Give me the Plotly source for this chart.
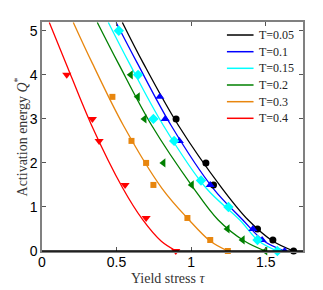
import plotly.graph_objects as go

# ---------------- data ----------------
labels = ["T=0.05", "T=0.1", "T=0.15", "T=0.2", "T=0.3", "T=0.4"]
colors = ["#000000", "#0000ff", "#00ffff", "#008000", "#e8860e", "#ff0000"]
symbols = ["circle", "triangle-up", "diamond", "triangle-left", "square", "triangle-down"]
msizes = [7, 8, 8, 8, 6, 8]

# simulation points (tau, Q*)
pts_tau_005 = [0.899, 1.099, 1.150, 1.445, 1.548, 1.687]
pts_q_005 = [3.0, 2.0, 1.5, 0.5, 0.25, 0.0]
pts_tau_01 = [0.790, 0.826, 0.921, 1.128, 1.414, 1.476, 1.627]
pts_q_01 = [3.5, 3.0, 2.5, 1.5, 0.5, 0.25, 0.0]
pts_tau_015 = [0.515, 0.644, 0.747, 0.886, 1.066, 1.250, 1.445, 1.578]
pts_q_015 = [5.0, 4.0, 3.0, 2.5, 1.6, 1.0, 0.25, 0.0]
pts_tau_02 = [0.595, 0.642, 0.687, 0.814, 1.004, 1.244, 1.345, 1.497]
pts_q_02 = [4.0, 3.5, 3.0, 2.0, 1.5, 0.5, 0.25, 0.0]
pts_tau_03 = [0.472, 0.600, 0.698, 0.747, 0.975, 1.128, 1.246]
pts_q_03 = [3.5, 2.5, 2.0, 1.5, 0.75, 0.25, 0.0]
pts_tau_04 = [0.166, 0.338, 0.383, 0.557, 0.698, 0.897]
pts_q_04 = [4.0, 3.0, 2.5, 1.5, 0.75, 0.0]

# fitted curves
fit_q = [5.19, 4.26, 2.85, 1.43, 0.71, 0.22, 0.0]
fit_tau_005 = [0.539, 0.680, 0.915, 1.206, 1.381, 1.550, 1.687]
fit_tau_01 = [0.497, 0.640, 0.866, 1.146, 1.345, 1.490, 1.627]
fit_tau_015 = [0.445, 0.586, 0.814, 1.100, 1.325, 1.455, 1.578]
fit_tau_02 = [0.371, 0.512, 0.736, 1.016, 1.180, 1.360, 1.497]
fit_tau_03 = [0.210, 0.338, 0.546, 0.803, 0.985, 1.130, 1.246]
fit_tau_04 = [0.049, 0.161, 0.333, 0.541, 0.675, 0.800, 0.900]

pts_tau = [pts_tau_005, pts_tau_01, pts_tau_015, pts_tau_02, pts_tau_03, pts_tau_04]
pts_q = [pts_q_005, pts_q_01, pts_q_015, pts_q_02, pts_q_03, pts_q_04]
fit_tau = [fit_tau_005, fit_tau_01, fit_tau_015, fit_tau_02, fit_tau_03, fit_tau_04]

x_ticks = [0, 0.5, 1, 1.5]
x_ticklabels = ["0", "0.5", "1", "1.5"]
y_ticks = [0, 1, 2, 3, 4, 5]
y_ticklabels = ["0", "1", "2", "3", "4", "5"]

# ---------------- figure ----------------
fig = go.Figure()
for i in range(len(labels)):
    fig.add_trace(go.Scatter(
        x=fit_tau[i], y=fit_q, mode="lines", line=dict(color=colors[i], width=1.3, shape="spline", smoothing=1.0),
        name=labels[i], showlegend=False, hoverinfo="skip"))
for i in range(len(labels)):
    fig.add_trace(go.Scatter(
        x=pts_tau[i], y=pts_q[i], mode="markers", cliponaxis=False,
        marker=dict(symbol=symbols[i], size=msizes[i], color=colors[i], line=dict(width=0)),
        name=labels[i], showlegend=False))

# manual legend
leg_y = [0.9432, 0.8703, 0.7978, 0.7249, 0.6520, 0.5795]
shapes = []
annotations = []
for i in range(len(labels)):
    shapes.append(dict(type="line", xref="paper", yref="paper", x0=0.7085, x1=0.8105,
                       y0=leg_y[i], y1=leg_y[i], line=dict(color=colors[i], width=1.5)))
    annotations.append(dict(xref="paper", yref="paper", x=0.8236, y=leg_y[i], text=labels[i],
                            showarrow=False, xanchor="left", yanchor="middle",
                            font=dict(family="Liberation Serif", size=12, color="#222")))
# bottom axis drawn black
shapes.append(dict(type="line", xref="paper", yref="paper", x0=0, x1=1, y0=0, y1=0,
                   line=dict(color="#000000", width=1.5)))

annotations.append(dict(xref="paper", yref="paper", x=0.483, y=-0.1166, text="Yield stress <i>τ</i>",
                        showarrow=False, xanchor="center", yanchor="middle", yshift=-1,
                        font=dict(family="Liberation Serif", size=14, color="#333")))
annotations.append(dict(xref="paper", yref="paper", x=-0.0806, y=0.5,
                        text="Activation energy <i>Q</i><sup>*</sup>", textangle=-90,
                        showarrow=False, xanchor="center", yanchor="middle",
                        font=dict(family="Liberation Serif", size=14, color="#333")))

# page body has an 8px default margin, so the figure is 8px smaller and offset
fig.update_layout(
    width=315, height=282,
    margin=dict(l=34, r=20.3, t=14, b=39),
    paper_bgcolor="white", plot_bgcolor="white",
    showlegend=False,
    shapes=shapes, annotations=annotations,
    xaxis=dict(range=[0, 1.75], tickvals=x_ticks, ticktext=x_ticklabels,
               ticks="inside", ticklen=4, tickcolor="#555", showline=True, linecolor="#808080",
               linewidth=1.5, mirror="ticks", showgrid=False, zeroline=False,
               ticklabelstandoff=-3,
               tickfont=dict(family="Liberation Sans", size=14, color="#000")),
    yaxis=dict(range=[0, 5.2], tickvals=y_ticks, ticktext=y_ticklabels,
               ticks="inside", ticklen=4, tickcolor="#555", showline=True, linecolor="#808080",
               linewidth=1.5, mirror="ticks", showgrid=False, zeroline=False,
               tickfont=dict(family="Liberation Sans", size=14, color="#000")),
)

fig.write_html("out.html")
